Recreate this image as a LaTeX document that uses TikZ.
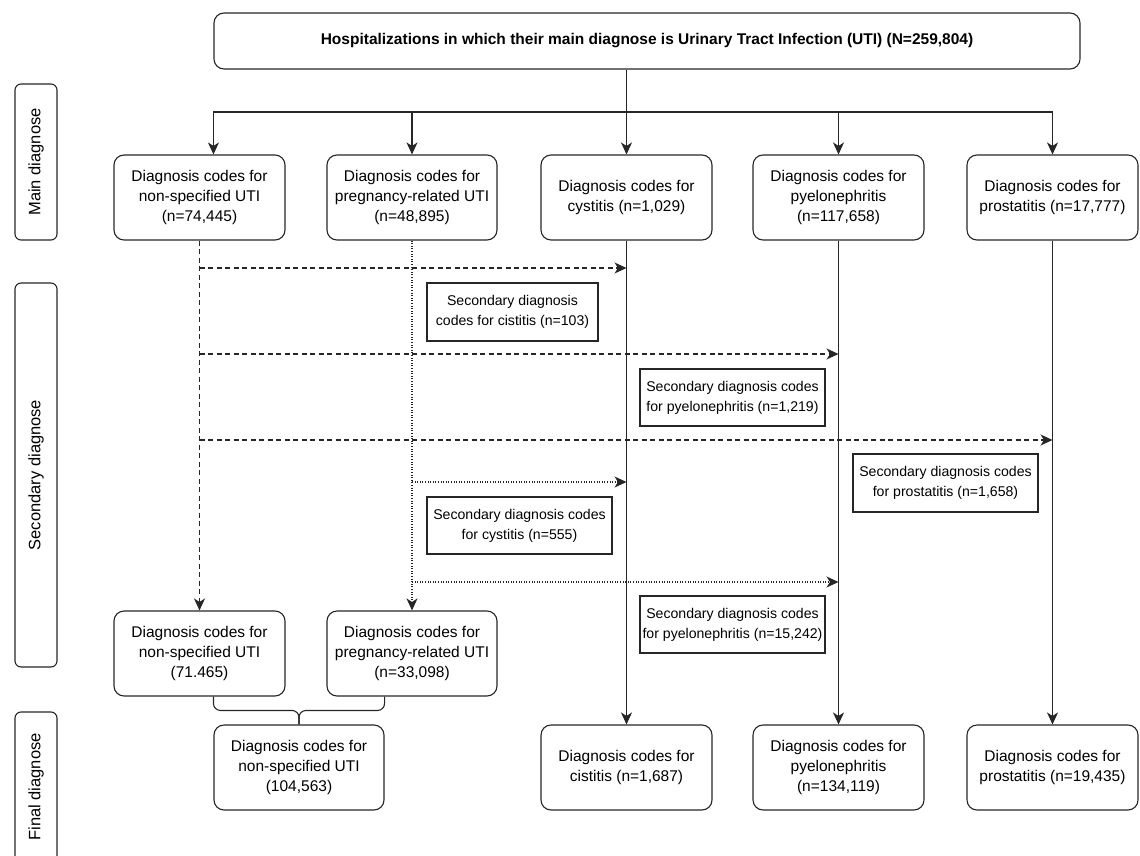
\documentclass[tikz,border=0pt]{standalone}
\usepackage{fontspec}
\setmainfont{Liberation Sans}
\usetikzlibrary{arrows.meta,calc}
\begin{document}
\begin{tikzpicture}[x=1pt,y=-1pt,line width=1.1pt,
  color=black!85,
  box/.style={draw=black!85, text=black, rounded corners=10pt, minimum width=171pt, minimum height=85pt, align=center, inner sep=0pt, font=\fontsize{15.5}{20}\selectfont},
  secbox/.style={draw=black!85, text=black, minimum height=57pt, align=center, inner sep=0pt, font=\fontsize{14.1}{20}\selectfont},
  lab/.style={draw=black!85, text=black, rounded corners=6pt, minimum height=42pt, inner sep=0pt, rotate=90, font=\fontsize{16.5}{20}\selectfont},
  arr/.style={-{Stealth[length=12pt,width=11pt,inset=3.5pt]}},
  dsh/.style={dash pattern=on 5pt off 3.5pt},
  dtt/.style={dash pattern=on 1pt off 1.6pt}]
\useasboundingbox (0,0) rectangle (1140,856);

% side labels
\node[lab, minimum width=156pt] (l1) at (36,162) {Main diagnose};
\node[lab, minimum width=384pt] (l2) at (36,475) {Secondary diagnose};
\node[lab, minimum width=150pt] (l3) at (36,787) {Final diagnose};

% top
\node[box, minimum width=866pt, minimum height=56pt, font=\fontsize{15.5}{20}\selectfont\bfseries] (top) at (647,41)
  {Hospitalizations in which their main diagnose is Urinary Tract Infection (UTI) (N=259,804)};

% main row
\node[box] (b1) at (199.5,197.5) {Diagnosis codes for\\non-specified UTI\\(n=74,445)};
\node[box, minimum width=170pt] (b2) at (412,197.5) {Diagnosis codes for\\pregnancy-related UTI\\(n=48,895)};
\node[box] (b3) at (626.5,197.5) {Diagnosis codes for\\cystitis (n=1,029)};
\node[box] (b4) at (838.5,197.5) {Diagnosis codes for\\pyelonephritis\\(n=117,658)};
\node[box] (b5) at (1052.5,197.5) {Diagnosis codes for\\prostatitis (n=17,777)};

% second row
\node[box] (b1b) at (199.5,653.5) {Diagnosis codes for\\non-specified UTI\\(71.465)};
\node[box, minimum width=170pt] (b2b) at (412,653.5) {Diagnosis codes for\\pregnancy-related UTI\\(n=33,098)};

% final row
\node[box, minimum width=170pt] (comb) at (299,767.5) {Diagnosis codes for\\non-specified UTI\\(104,563)};
\node[box] (f3) at (626.5,767.5) {Diagnosis codes for\\cistitis (n=1,687)};
\node[box] (f4) at (838.5,767.5) {Diagnosis codes for\\pyelonephritis\\(n=134,119)};
\node[box] (f5) at (1052.5,767.5) {Diagnosis codes for\\prostatitis (n=19,435)};

% secondary label boxes
\node[secbox, minimum width=171pt, minimum height=58pt] (s1) at (512.5,312) {Secondary diagnosis\\codes for cistitis (n=103)};
\node[secbox, minimum width=185pt] (s2) at (732.5,397.5) {Secondary diagnosis codes\\for pyelonephritis (n=1,219)};
\node[secbox, minimum width=185pt, minimum height=58pt] (s3) at (945.5,483) {Secondary diagnosis codes\\for prostatitis (n=1,658)};
\node[secbox, minimum width=185pt] (s4) at (519.5,525.5) {Secondary diagnosis codes\\for cystitis (n=555)};
\node[secbox, minimum width=185pt] (s5) at (732.5,624.5) {Secondary diagnosis codes\\for pyelonephritis (n=15,242)};

% top connectors
\coordinate (hl) at (0,112);
\coordinate (a1) at (top.south west |- hl);
\draw[arr] (top.south -| b3.north) -- (b3.north);
\draw (a1) -- (b5.north |- hl);
\draw[arr] (a1) -- (a1 |- b1.north);
\draw[arr] (b2.north |- hl) -- (b2.north);
\draw[arr] (b4.north |- hl) -- (b4.north);
\draw[arr] (b5.north |- hl) -- (b5.north);

% solid verticals
\draw[arr] (b3.south) -- (f3.north);
\draw[arr] (b4.south) -- (f4.north);
\draw[arr] (b5.south) -- (f5.north);

% dashed (non-specified)
\draw[dsh,arr] (b1.south) -- (b1b.north);
\coordinate (d1) at (b1.south |- 0,268);
\coordinate (d2) at (b1.south |- 0,354);
\coordinate (d3) at (b1.south |- 0,440);
\draw[dsh,arr] (d1) -- (d1 -| b3.south);
\draw[dsh,arr] (d2) -- (d2 -| b4.south);
\draw[dsh,arr] (d3) -- (d3 -| b5.south);

% dotted (pregnancy)
\draw[dtt,arr] (b2.south) -- (b2b.north);
\coordinate (p1) at (b2.south |- 0,482);
\coordinate (p2) at (b2.south |- 0,582);
\draw[dtt,arr] (p1) -- (p1 -| b3.south);
\draw[dtt,arr] (p2) -- (p2 -| b4.south);

% brace
\coordinate (bl) at (comb.north west |- b1b.south);
\coordinate (br) at (comb.north east |- b2b.south);
\coordinate (bm) at ($(comb.north)+(0,-14)$);
\draw[rounded corners=7pt] (bl) |- (bm) -- (comb.north);
\draw[rounded corners=7pt] (br) |- (bm) -- (comb.north);
\end{tikzpicture}
\end{document}
